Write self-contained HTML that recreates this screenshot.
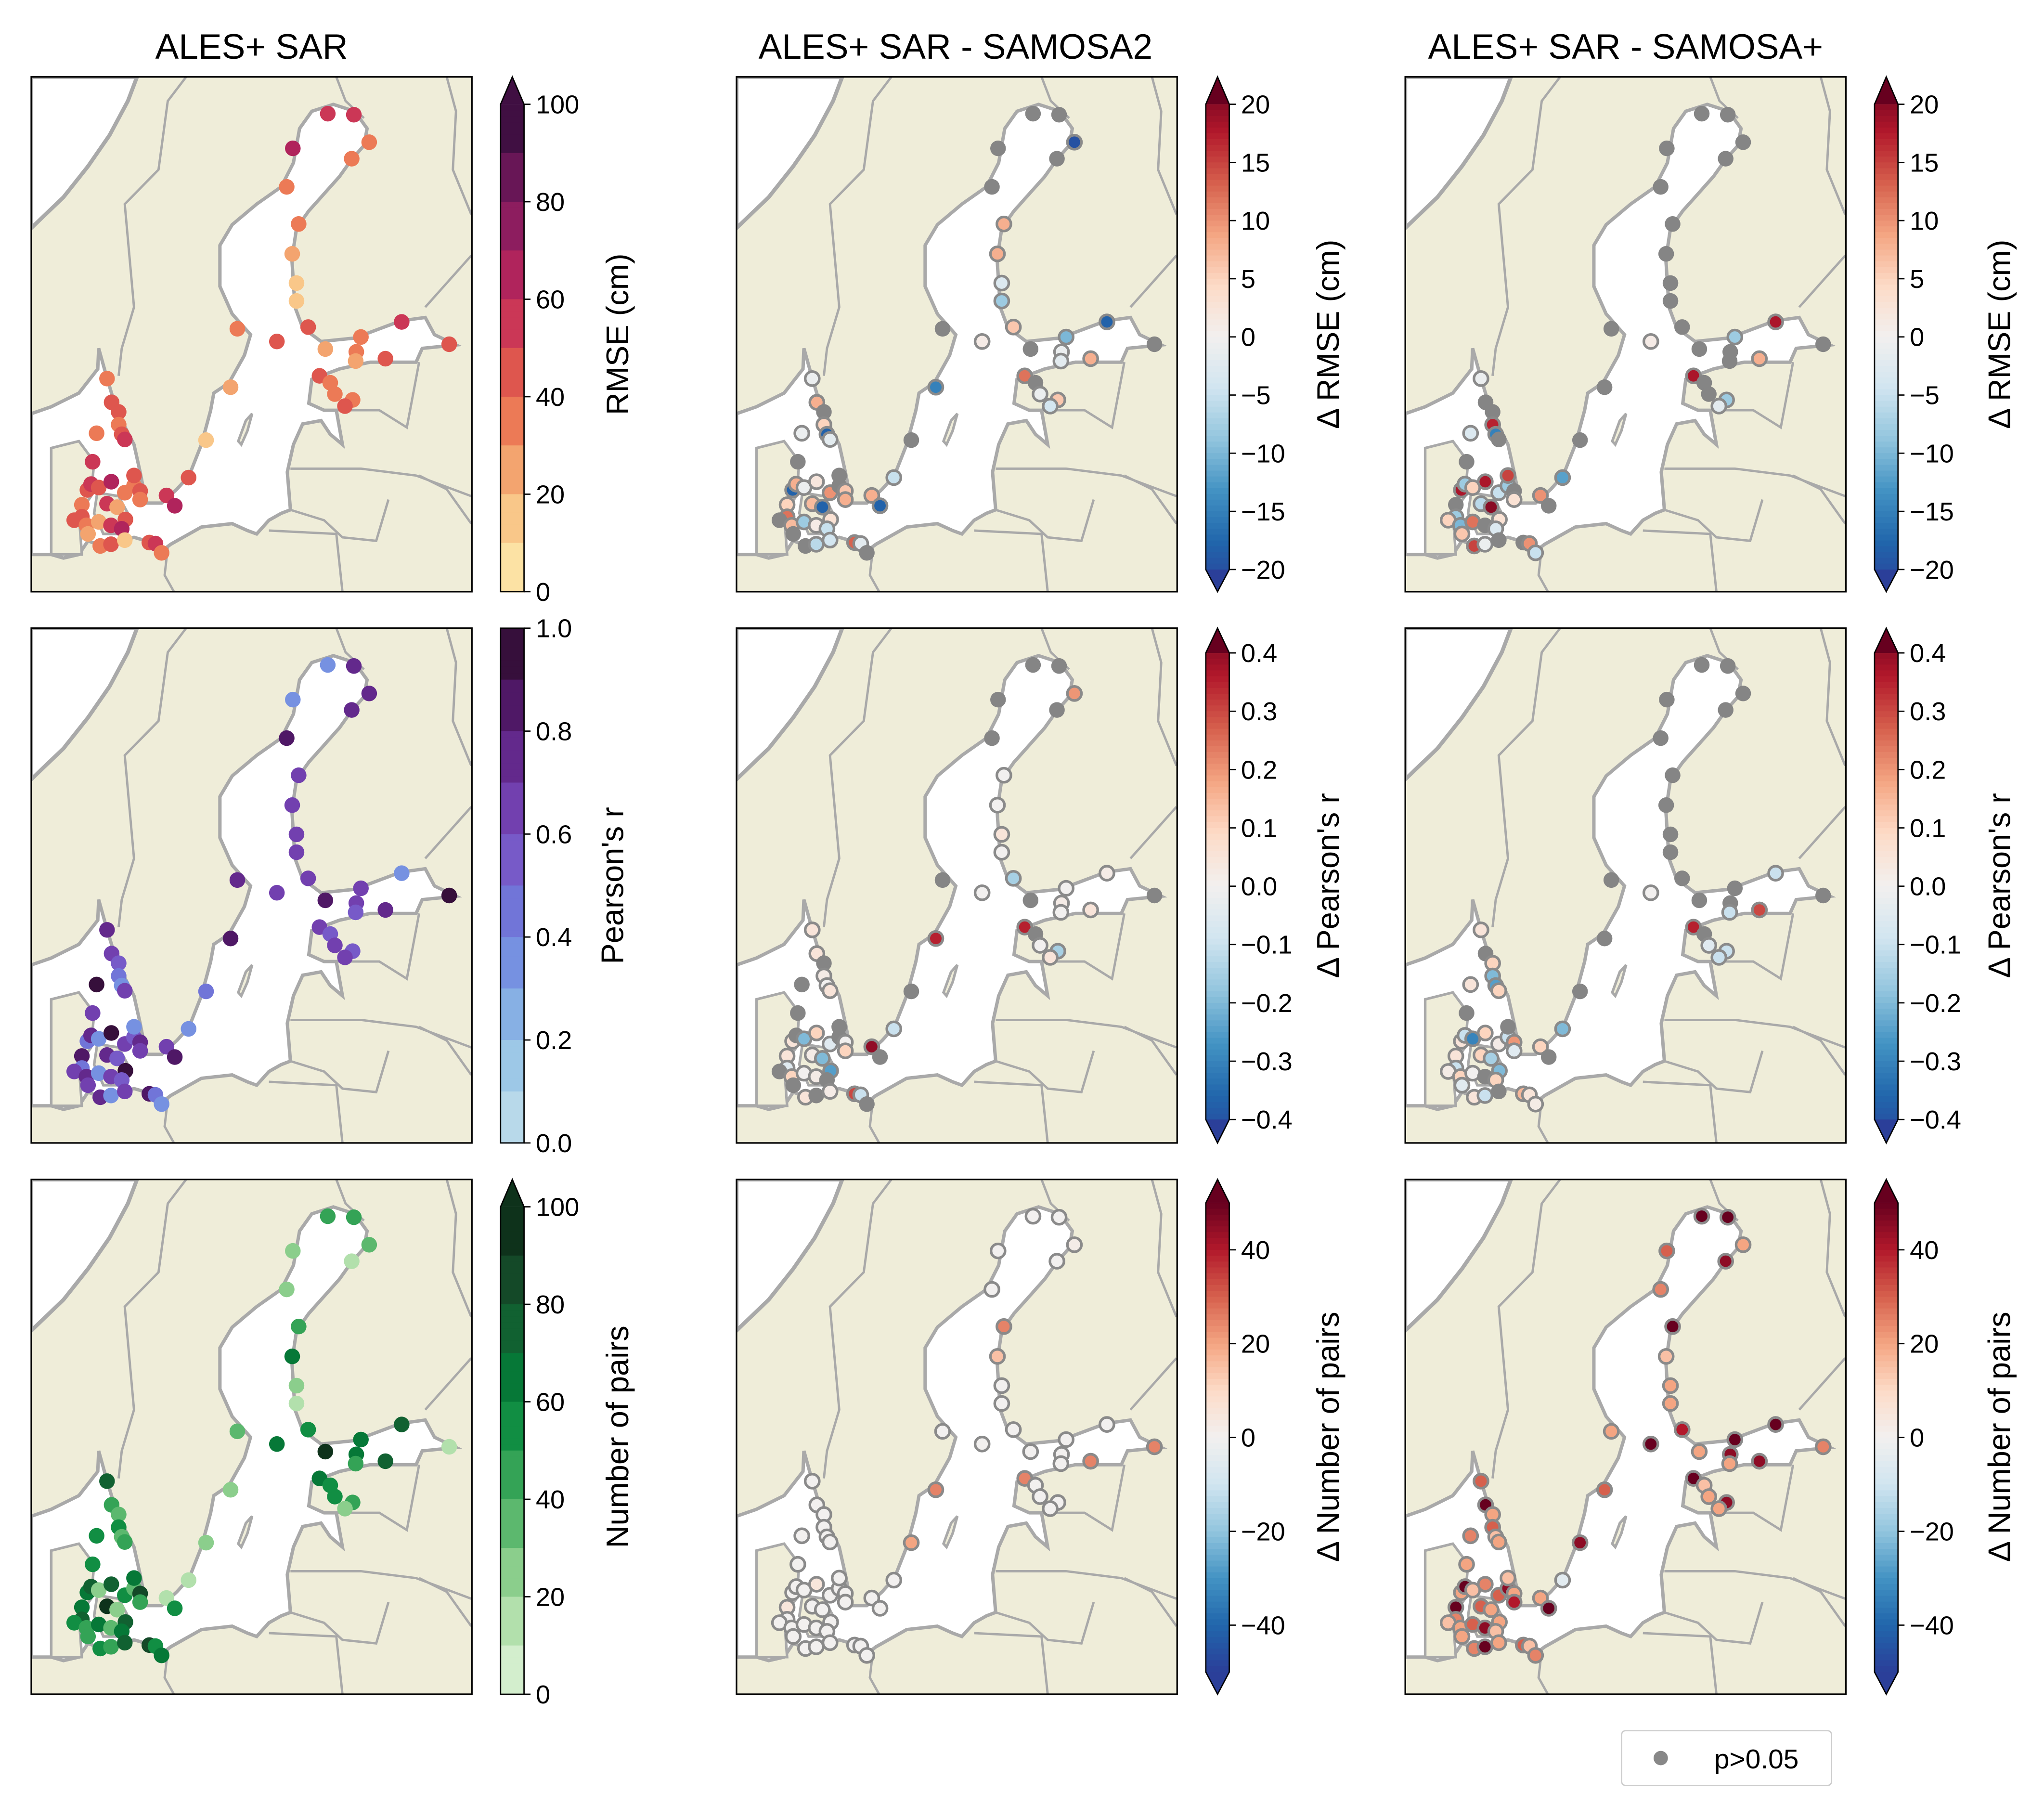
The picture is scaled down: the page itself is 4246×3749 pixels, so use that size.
<!DOCTYPE html>
<html><head><meta charset="utf-8"><style>
html,body{margin:0;padding:0;background:#fff}
svg{display:block}
text{font-family:"Liberation Sans","DejaVu Sans",sans-serif;fill:#000}
</style></head><body>
<svg id="fig" xmlns="http://www.w3.org/2000/svg" width="4246" height="3749" viewBox="0 0 1568 1385" preserveAspectRatio="none">
<rect width="1568" height="1385" fill="#fff"/>
<text x="193" y="45" font-size="27" text-anchor="middle">ALES+ SAR</text>
<text x="733" y="45" font-size="27" text-anchor="middle">ALES+ SAR - SAMOSA2</text>
<text x="1247" y="45" font-size="27" text-anchor="middle">ALES+ SAR - SAMOSA+</text>
<g id="legend">
<rect x="1244" y="1328" width="161" height="42" rx="3" fill="#fff" stroke="#ccc"/>
<circle cx="1274" cy="1349" r="5.5" fill="#888"/>
<text x="1315" y="1357" font-size="21">p&gt;0.05</text>
</g>
</svg>
<script>
// ---- data ----
const stationX=[1012,1097,1147,898,1090,878,917,896,910,910,948,717,846,1004,1120,1253,1408,1105,1103,1200,985,1020,1035,1093,1068,695,615,558,486,513,292,307,330,330,340,350,258,245,228,240,265,306,350,380,400,380,400,292,325,210,210,185,225,265,305,352,340,270,305,350,430,450,470,230];
const stationY=[137,140,220,238,268,350,458,545,630,682,758,763,800,822,787,743,808,830,857,850,900,920,953,970,988,933,1087,1196,1248,1278,908,977,1005,1042,1070,1085,1067,1150,1232,1215,1225,1208,1240,1220,1235,1190,1260,1272,1282,1275,1310,1320,1335,1325,1335,1318,1345,1395,1390,1378,1385,1388,1415,1360];
const rmse=[55,55,35,60,30,35,30,20,15,15,40,35,40,25,35,55,40,30,20,45,40,35,30,35,40,20,15,45,50,60,30,40,45,35,40,50,30,55,40,50,45,60,35,30,45,40,30,55,20,35,45,40,30,25,50,45,60,35,40,15,45,55,30,25];
const pearson=[0.35,0.7,0.7,0.3,0.7,0.85,0.6,0.6,0.65,0.6,0.6,0.7,0.65,0.85,0.6,0.3,0.9,0.6,0.55,0.75,0.65,0.55,0.6,0.5,0.6,0.8,0.4,0.35,0.6,0.8,0.7,0.65,0.55,0.4,0.3,0.6,0.9,0.6,0.4,0.7,0.3,0.9,0.6,0.5,0.75,0.35,0.6,0.7,0.5,0.85,0.4,0.65,0.75,0.3,0.6,0.9,0.5,0.7,0.35,0.6,0.8,0.45,0.3,0.65];
const pairs=[40,40,30,20,15,25,45,60,20,15,55,35,60,90,60,75,15,60,45,70,65,50,55,40,20,25,20,10,15,50,70,45,35,55,30,40,55,50,60,75,20,70,55,35,80,60,45,90,25,60,70,55,40,65,30,75,60,50,45,70,85,55,60,40];
const dRmseS2=[null,null,-20,null,null,null,8,8,-3,-8,6,null,1,null,-10,-18,null,-1,-2,8,12,null,-1,6,-4,-15,null,-5,8,-18,-1,8,null,5,-18,-2,-1,null,-18,8,-1,2,10,null,6,null,8,7,-18,5,12,null,7,-8,1,3,-5,null,-6,-4,13,-2,null,null];
const dRmseSP=[null,null,null,null,null,null,null,null,null,null,null,null,1,null,-8,18,null,null,null,8,18,null,null,-8,-2,null,null,-12,10,null,-1,null,null,17,-15,null,-3,null,18,-8,5,18,-5,-8,null,15,3,-6,20,null,-8,5,-10,12,null,3,-3,15,-1,null,null,10,-5,6];
const dRS2=[null,null,0.2,null,null,null,0,0,0.05,0,-0.15,null,0,null,0,0.02,null,0.02,0,0.05,0.35,null,0,-0.15,0.05,0.35,null,-0.1,0.4,null,0.05,0.05,null,0.02,0,0.05,null,null,0.05,null,-0.2,0.1,-0.05,null,0,null,0.1,0.02,-0.2,0.05,-0.05,null,0.1,0,0.02,-0.25,null,0.05,null,0.02,0.3,-0.1,null,null];
const dRSP=[null,null,null,null,null,null,null,null,null,null,null,null,0,null,null,-0.1,null,null,-0.1,0.3,0.35,null,-0.05,-0.1,-0.1,null,null,-0.2,0.1,null,0.05,null,0.1,-0.2,-0.25,0.1,0.05,null,0.05,-0.1,-0.3,0.1,0.02,-0.1,0.2,null,-0.05,0.1,-0.15,0.05,-0.1,0.02,0.1,0,null,-0.2,0.1,0.05,-0.1,null,0.15,0.05,0.02,-0.05];
const dPairsS2=[0,0,2,0,0,0,25,15,0,0,0,0,0,0,0,0,25,0,0,25,25,0,0,0,0,25,20,0,0,0,0,0,0,0,0,0,0,0,0,0,0,5,0,0,0,0,0,0,0,5,0,0,0,0,0,0,0,0,0,0,0,0,0,0];
const dPairsSP=[50,50,20,30,45,25,50,15,20,20,40,20,50,20,50,50,25,45,20,45,50,15,20,45,20,30,45,-5,20,50,30,50,20,30,15,20,25,20,20,50,15,25,30,45,20,15,40,30,20,50,25,15,20,30,45,20,15,25,50,20,30,15,25,20];
const tickRmse=[0,20,40,60,80,100];
const tickR=[0.0,0.2,0.4,0.6,0.8,1.0];
const tickPairs=[0,20,40,60,80,100];
const tickDRmse=[-20,-15,-10,-5,0,5,10,15,20];
const tickDR=[-0.4,-0.3,-0.2,-0.1,0.0,0.1,0.2,0.3,0.4];
const tickDPairs=[-40,-20,0,20,40];

// ---- colormaps ----
function hex(h){return [parseInt(h.substr(1,2),16),parseInt(h.substr(3,2),16),parseInt(h.substr(5,2),16)];}
function cmap(stops){return t=>{t=Math.max(0,Math.min(1,t));const n=stops.length-1;const i=Math.min(n-1,Math.floor(t*n));const f=t*n-i;const a=hex(stops[i]),b=hex(stops[i+1]);return 'rgb('+a.map((v,k)=>Math.round(v+(b[k]-v)*f)).join(',')+')';};}
const cmRmse=cmap(['#fdf0b2','#f7b97b','#e8654a','#c1275a','#7c1a60','#2c0b38']);
const cmR=cmap(['#c6e2ec','#8fbfe5','#6e82e0','#7a4cc0','#5b1d7b','#2a0a26']);
const cmPairs=cmap(['#e3f5dd','#a2d99b','#45ad5f','#00843a','#17552e','#0b2614']);
const cmDiv=cmap(['#2b3f99','#2166ac','#4393c3','#92c5de','#d1e5f0','#f2f0ef','#fddbc7','#f4a582','#d6604d','#b2182b','#67001f']);
function disc(cm,n){return t=>cm((Math.min(n-1,Math.floor(Math.max(0,t)*n))+0.5)/n);}

const NS='http://www.w3.org/2000/svg';
const svg=document.getElementById('fig');
function el(tag,attrs,parent){const e=document.createElementNS(NS,tag);for(const k in attrs)e.setAttribute(k,attrs[k]);(parent||svg).appendChild(e);return e;}

const seaMain=[[45,1010],[110,990],[200,950],[262,880],[265,820],[290,900],[310,960],[340,1030],[380,1100],[400,1180],[420,1270],[470,1270],[520,1230],[560,1190],[600,1100],[630,1000],[640,950],[690,920],[740,840],[760,780],[700,720],[660,640],[660,520],[700,460],[780,400],[860,350],[900,280],[920,180],[960,130],[1030,110],[1100,130],[1140,180],[1130,230],[1090,270],[1050,320],[990,380],[950,420],[910,470],[895,560],[905,700],[930,760],[990,800],[1100,790],[1250,740],[1330,730],[1360,780],[1430,810],[1320,820],[1300,860],[1150,860],[1050,880],[960,910],[950,980],[1000,1000],[1040,1000],[1060,1100],[1020,1070],[990,1030],[930,1040],[900,1100],[880,1180],[890,1290],[860,1300],[820,1320],[780,1360],[750,1350],[700,1330],[600,1340],[500,1390],[470,1410],[420,1380],[380,1370],[340,1380],[290,1400],[230,1380],[200,1420],[150,1430],[110,1420],[45,1420]];
const seaNW=[[45,30],[390,30],[360,100],[300,200],[230,290],[150,380],[80,440],[45,470]];
const jutland=[[110,1110],[200,1090],[250,1150],[240,1250],[200,1300],[210,1420],[110,1420]];
const zealand=[[260,1240],[330,1250],[360,1300],[330,1360],[280,1360],[250,1300]];
const gotland=[[720,1090],[745,1030],[765,1010],[750,1060],[730,1100]];
const borders=[
 [[550,30],[490,100],[460,300],[350,400],[380,700],[340,820],[330,900]],
 [[1040,30],[1070,100],[1130,150]],
 [[1400,30],[1430,130],[1420,300],[1480,430]],
 [[1480,550],[1330,700]],
 [[1020,1000],[1180,1000],[1270,1050],[1310,860]],
 [[890,1170],[1000,1170],[1120,1170],[1300,1190],[1480,1250]],
 [[890,1290],[1000,1320],[1060,1370],[1170,1380],[1210,1260]],
 [[820,1350],[1040,1360],[1060,1528]],
 [[1310,1190],[1400,1230],[1480,1330]],
 [[490,1400],[480,1480],[510,1528]]];

const colsX=[24,565,1078], rowsY=[59,482,905], PW=338, PH=395;
function tr(X,Y,p){return [X+(p[0]-45)/1437*PW, Y+(p[1]-30)/1498*PH];}
function pts(X,Y,arr){return arr.map(p=>tr(X,Y,p).map(v=>v.toFixed(1)).join(',')).join(' ');}

const panels=[
 {c:0,r:0,vals:rmse,cm:disc(cmRmse,10),lo:0,hi:100,div:false,name:'rmse'},
 {c:1,r:0,vals:dRmseS2,cm:cmDiv,lo:-22,hi:22,div:true,name:'drmse-samosa2'},
 {c:2,r:0,vals:dRmseSP,cm:cmDiv,lo:-22,hi:22,div:true,name:'drmse-samosaplus'},
 {c:0,r:1,vals:pearson,cm:disc(cmR,10),lo:0,hi:1,div:false,name:'pearson'},
 {c:1,r:1,vals:dRS2,cm:cmDiv,lo:-0.45,hi:0.45,div:true,name:'dr-samosa2'},
 {c:2,r:1,vals:dRSP,cm:cmDiv,lo:-0.45,hi:0.45,div:true,name:'dr-samosaplus'},
 {c:0,r:2,vals:pairs,cm:disc(cmPairs,10),lo:0,hi:100,div:false,name:'pairs'},
 {c:1,r:2,vals:dPairsS2,cm:cmDiv,lo:-50,hi:50,div:true,name:'dpairs-samosa2'},
 {c:2,r:2,vals:dPairsSP,cm:cmDiv,lo:-50,hi:50,div:true,name:'dpairs-samosaplus'}];

panels.forEach(P=>{
 const X=colsX[P.c],Y=rowsY[P.r];
 const g=el('g',{});
 
 
 const cid='clip'+P.c+P.r;
 const cp=el('clipPath',{id:cid},g);el('rect',{x:X,y:Y,width:PW,height:PH},cp);
 const inner=el('g',{'clip-path':'url(#'+cid+')'},g);
 el('rect',{x:X,y:Y,width:PW,height:PH,fill:'#efedd9'},inner);
 el('polygon',{points:pts(X,Y,seaNW),fill:'#fff',stroke:'#a9a9a9','stroke-width':3},inner);
 el('polygon',{points:pts(X,Y,seaMain),fill:'#fff',stroke:'#a9a9a9','stroke-width':2.6},inner);
 [jutland,zealand,gotland].forEach(a=>el('polygon',{points:pts(X,Y,a),fill:'#efedd9',stroke:'#a9a9a9','stroke-width':2},inner));
 borders.forEach(b=>el('polyline',{points:pts(X,Y,b),fill:'none',stroke:'#a9a9a9','stroke-width':1.8},inner));
 for(let i=0;i<stationX.length;i++){
  const v=P.vals[i];
  const [cx,cy]=tr(X,Y,[stationX[i],stationY[i]]);
  let d;
  if(v===null||v===undefined){d=el('circle',{cx:cx,cy:cy,r:6,fill:'#858585'},inner);}
  else if(P.div){d=el('circle',{cx:cx,cy:cy,r:5.4,fill:P.cm((v-P.lo)/(P.hi-P.lo)),stroke:'#8a8a8a','stroke-width':2},inner);}
  else{d=el('circle',{cx:cx,cy:cy,r:6,fill:P.cm((v-P.lo)/(P.hi-P.lo))},inner);}
  
  
 }
 el('rect',{x:X,y:Y,width:PW,height:PH,fill:'none',stroke:'#000','stroke-width':1.2},g);
});

const cbX=[384,925,1438], CBW=18;
const bars=[
 {c:0,r:0,cm:disc(cmRmse,10),lo:0,hi:100,y0:80,y1:454,top:true,bot:false,ticks:tickRmse,fmt:v=>v,label:'RMSE (cm)',lx:482},
 {c:0,r:1,cm:disc(cmR,10),lo:0,hi:1,y0:482,y1:877,top:false,bot:false,ticks:tickR,fmt:v=>v.toFixed(1),label:"Pearson's r",lx:478},
 {c:0,r:2,cm:disc(cmPairs,10),lo:0,hi:100,y0:926,y1:1300,top:true,bot:false,ticks:tickPairs,fmt:v=>v,label:'Number of pairs',lx:482},
 {c:1,r:0,cm:cmDiv,lo:-22,hi:22,y0:80,y1:437,top:true,bot:true,ticks:tickDRmse,fmt:v=>v<0?'\u2212'+(-v):v,label:'\u0394 RMSE (cm)',lx:1027,tlo:-20,thi:20},
 {c:1,r:1,cm:cmDiv,lo:-0.45,hi:0.45,y0:501,y1:859,top:true,bot:true,ticks:tickDR,fmt:v=>v<0?'\u2212'+(-v).toFixed(1):v.toFixed(1),label:"\u0394 Pearson's r",lx:1027,tlo:-0.4,thi:0.4},
 {c:1,r:2,cm:cmDiv,lo:-50,hi:50,y0:923,y1:1283,top:true,bot:true,ticks:tickDPairs,fmt:v=>v<0?'\u2212'+(-v):v,label:'\u0394 Number of pairs',lx:1027,tlo:-50,thi:50}];
const bars3=bars.filter(b=>b.c===1).map(b=>Object.assign({},b,{c:2,lx:1542}));
bars.concat(bars3).forEach(B=>{
 const x=cbX[B.c];
 const g=el('g',{});
 
 
 const tlo=B.tlo!==undefined?B.tlo:B.lo, thi=B.thi!==undefined?B.thi:B.hi;
 const yOf=v=>B.y1-(v-tlo)/(thi-tlo)*(B.y1-B.y0);
 const N=80;
 for(let k=0;k<N;k++){
  const ya=B.y0+(B.y1-B.y0)*k/N, yb=B.y0+(B.y1-B.y0)*(k+1)/N;
  const vm=thi-(k+0.5)/N*(thi-tlo);
  el('rect',{x:x,y:ya,width:CBW,height:yb-ya+0.6,fill:B.cm((vm-B.lo)/(B.hi-B.lo))},g);
 }
 const topY=rowsY[B.r], botY=rowsY[B.r]+PH;
 let outline='M'+x+','+B.y0;
 if(B.top){el('polygon',{points:x+','+B.y0+' '+(x+CBW/2)+','+topY+' '+(x+CBW)+','+B.y0,fill:B.cm(1)},g);outline+=' L'+(x+CBW/2)+','+topY+' L'+(x+CBW)+','+B.y0;}
 else outline+=' L'+(x+CBW)+','+B.y0;
 outline+=' L'+(x+CBW)+','+B.y1;
 if(B.bot){el('polygon',{points:x+','+B.y1+' '+(x+CBW/2)+','+botY+' '+(x+CBW)+','+B.y1,fill:B.cm(0)},g);outline+=' L'+(x+CBW/2)+','+botY+' L'+x+','+B.y1;}
 else outline+=' L'+x+','+B.y1;
 outline+=' Z';
 el('path',{d:outline,fill:'none',stroke:'#000','stroke-width':1},g);
 B.ticks.forEach(v=>{
  const y=yOf(v);
  el('line',{x1:x+CBW,y1:y,x2:x+CBW+5,y2:y,stroke:'#000','stroke-width':1},g);
  const t=el('text',{x:x+CBW+9,y:y+7,'font-size':20},g);
  t.textContent=B.fmt(v);
  
  
 });
 const cy=rowsY[B.r]+PH/2;
 const lt=el('text',{x:B.lx,y:cy,'font-size':24,'text-anchor':'middle',transform:'rotate(-90 '+B.lx+' '+cy+')'},g);
 lt.textContent=B.label;
 
 
});
</script>
</body></html>
